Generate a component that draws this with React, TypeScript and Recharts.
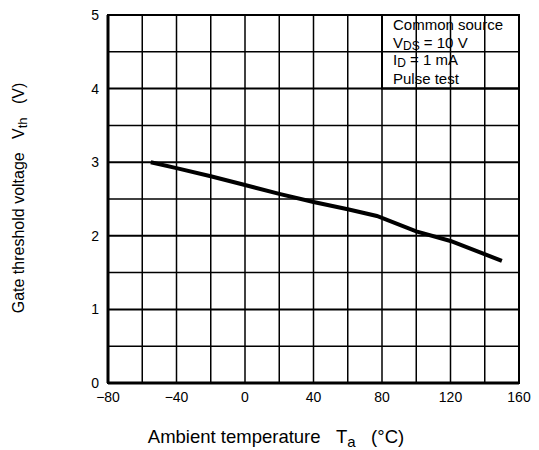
import React from "react";
import { LineChart, Line, XAxis, YAxis, ReferenceLine, ReferenceArea } from "recharts";

const temperature = [-55, -40, -20, 0, 20, 40, 60, 77, 100, 120, 150];
const vth = [3.0, 2.92, 2.81, 2.69, 2.57, 2.46, 2.36, 2.27, 2.06, 1.93, 1.66];

const xTicks = [-80, -40, 0, 40, 80, 120, 160];
const yTicks = [0, 1, 2, 3, 4, 5];
const gridX = [-60, -40, -20, 0, 20, 40, 60, 80, 100, 120, 140];
const gridY = [0.5, 1, 1.5, 2, 2.5, 3, 3.5, 4, 4.5];

const legendLines = ["Common source", "VDS = 10 V", "ID = 1 mA", "Pulse test"];

const data = temperature.map((t, i) => ({ t, v: vth[i] }));

const FONT = '"Liberation Sans", Arial, Helvetica, sans-serif';

const LegendText = (props: any) => {
  const vb = props.viewBox || {};
  const x = (vb.x ?? 0) + 11;
  const y = (vb.y ?? 0) + 15;
  const common = { fontSize: 15, fontFamily: FONT, fill: "#000" };
  return (
    <g>
      <text x={x} y={y} {...common}>{legendLines[0]}</text>
      <text x={x} y={y + 18} {...common}>
        V<tspan dy={1.5} fontSize={12}>DS</tspan>
        <tspan dy={-1.5}>{legendLines[1].slice(3)}</tspan>
      </text>
      <text x={x} y={y + 35} {...common}>
        I<tspan dy={1.5} fontSize={12}>D</tspan>
        <tspan dy={-1.5}>{legendLines[2].slice(2)}</tspan>
      </text>
      <text x={x} y={y + 54} {...common}>{legendLines[3]}</text>
    </g>
  );
};

const YLabel = () => (
  <text x={24} y={198} transform="rotate(-90 24 198)" textAnchor="middle" fontSize={16} fontFamily={FONT} fill="#000">
    Gate threshold voltage{"\u00a0\u00a0\u00a0"}V<tspan dy={3} fontSize={13}>th</tspan>
    <tspan dy={-3}>{"\u00a0\u00a0\u00a0"}(V)</tspan>
  </text>
);

const XLabel = () => (
  <text x={276} y={443} textAnchor="middle" fontSize={18.5} fontFamily={FONT} fill="#000">
    Ambient temperature{"\u00a0\u00a0\u00a0"}T<tspan dy={4} fontSize={15}>a</tspan>
    <tspan dy={-4}>{"\u00a0\u00a0\u00a0"}(°C)</tspan>
  </text>
);

export default function App() {
  return (
    <div style={{ position: "absolute", left: 0, top: 0, background: "#fff" }}>
      <LineChart width={539} height={450} data={data} margin={{ top: 15, right: 20, left: 0, bottom: 0 }}>
        <XAxis
          dataKey="t"
          type="number"
          domain={[-80, 160]}
          ticks={xTicks}
          tickFormatter={(v: number) => (v < 0 ? `\u2212${-v}` : `${v}`)}
          height={67}
          tickLine={false}
          tickSize={0}
          tickMargin={9}
          axisLine={{ stroke: "#000", strokeWidth: 3 }}
          tick={{ fill: "#000", fontSize: 14, fontFamily: FONT }}
          label={<XLabel />}
          allowDataOverflow
        />
        <YAxis
          type="number"
          domain={[0, 5]}
          ticks={yTicks}
          width={108}
          tickLine={false}
          tickSize={0}
          tickMargin={9}
          axisLine={{ stroke: "#000", strokeWidth: 3 }}
          tick={{ fill: "#000", fontSize: 14, fontFamily: FONT }}
          label={<YLabel />}
          allowDataOverflow
        />
        {gridX.map((g) => (
          <ReferenceLine key={`gx${g}`} x={g} stroke="#000" strokeWidth={1.5} />
        ))}
        {gridY.map((g) => (
          <ReferenceLine key={`gy${g}`} y={g} stroke="#000" strokeWidth={Number.isInteger(g) ? 2 : 1.5} />
        ))}
        <ReferenceArea x1={-80} x2={160} y1={0} y2={5} fill="none" stroke="#000" strokeWidth={2} />
        <ReferenceArea
          x1={80}
          x2={160}
          y1={4}
          y2={5}
          fill="#fff"
          fillOpacity={1}
          stroke="#000"
          strokeWidth={2}
          label={<LegendText />}
        />
        <Line
          dataKey="v"
          type="linear"
          stroke="#000"
          strokeWidth={4}
          dot={false}
          isAnimationActive={false}
        />
      </LineChart>
    </div>
  );
}
